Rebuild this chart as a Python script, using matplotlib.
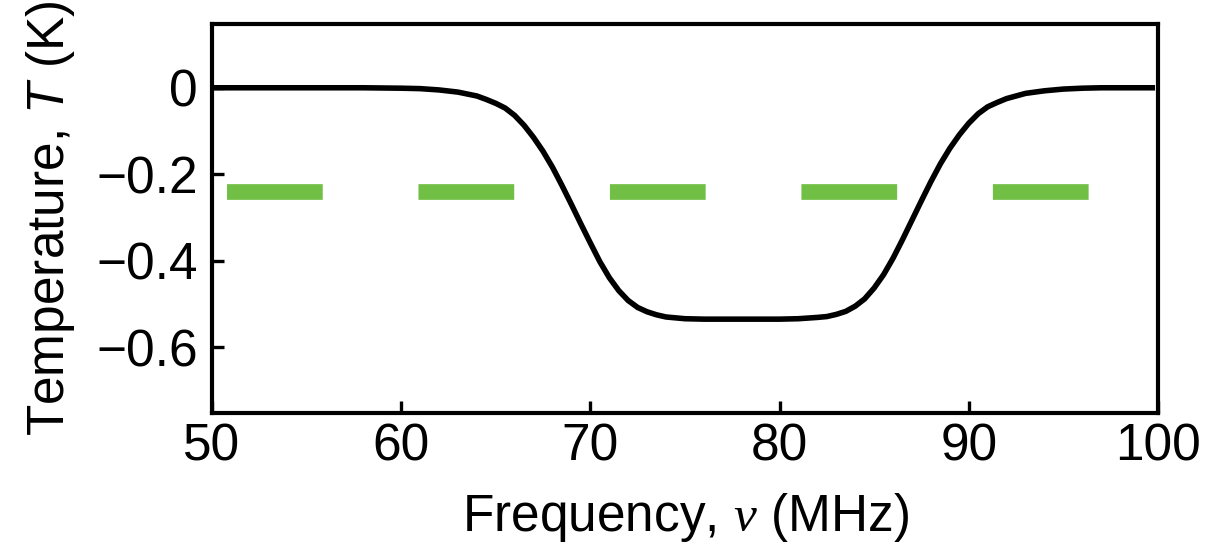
import matplotlib.pyplot as plt

plt.rcParams['font.family'] = ['Liberation Sans', 'DejaVu Sans']
plt.rcParams['mathtext.fontset'] = 'custom'
plt.rcParams['mathtext.it'] = 'Liberation Serif:italic'
plt.rcParams['mathtext.sf'] = 'Liberation Sans:italic'

# absorption profile (MHz, K)
freq = [50, 52, 54, 56, 58, 60, 61, 62, 63, 64, 64.5, 65, 65.5, 66, 66.5,
        67, 67.5, 68, 68.5, 69, 69.5, 70, 70.5, 71, 71.5, 72, 72.5, 73, 73.5,
        74, 75, 76, 78, 80, 81, 82, 82.5, 83, 83.5, 84, 84.5, 85, 85.5, 86,
        86.5, 87, 87.5, 88, 88.5, 89, 89.5, 90, 90.5, 91, 91.5, 92, 93, 94,
        95, 96, 97, 98, 99.7]
temp = [0, 0, 0, 0, 0, -0.001, -0.002, -0.005, -0.010, -0.019, -0.027,
        -0.036, -0.047, -0.064, -0.087, -0.115, -0.147, -0.184, -0.226,
        -0.270, -0.315, -0.359, -0.402, -0.439, -0.469, -0.492, -0.508,
        -0.518, -0.525, -0.530, -0.534, -0.535, -0.535, -0.535, -0.534,
        -0.531, -0.529, -0.524, -0.517, -0.505, -0.488, -0.463, -0.432,
        -0.394, -0.351, -0.306, -0.261, -0.217, -0.176, -0.140, -0.109,
        -0.082, -0.060, -0.044, -0.034, -0.025, -0.013, -0.007, -0.003,
        -0.001, 0, 0, 0]

# green dashed reference level
green_x = [50.8, 96.5]
green_level = -0.24

xticks = [50, 60, 70, 80, 90, 100]
yticks = [0, -0.2, -0.4, -0.6]

fig = plt.figure(figsize=(12.12, 5.5), dpi=100)
ax = fig.add_axes([0.1749, 0.2491, 0.7805, 0.7073])

ax.plot(green_x, [green_level, green_level], color='#71bf44', lw=11.3,
        dashes=(6.1, 6.1), solid_capstyle='butt', dash_capstyle='butt')
ax.plot(freq, temp, color='black', lw=4.0)

ax.set_xlim(50, 100)
ax.set_ylim(-0.752, 0.1475)
ax.set_xticks(xticks)
ax.set_yticks(yticks)
ax.set_yticklabels(['0', '\u22120.2', '\u22120.4', '\u22120.6'])

ax.tick_params(direction='in', length=8.5, width=2.4, labelsize=37, pad=7)
ax.tick_params(axis='y', pad=10)
for s in ax.spines.values():
    s.set_linewidth(3.0)

ax.set_xlabel(r'Frequency, $\nu$ (MHz)', fontsize=37, labelpad=14)
ax.set_ylabel(r'Temperature, $\mathsf{T}$ (K)', fontsize=37, labelpad=14)

plt.savefig('out.png', dpi=100)
plt.close()
